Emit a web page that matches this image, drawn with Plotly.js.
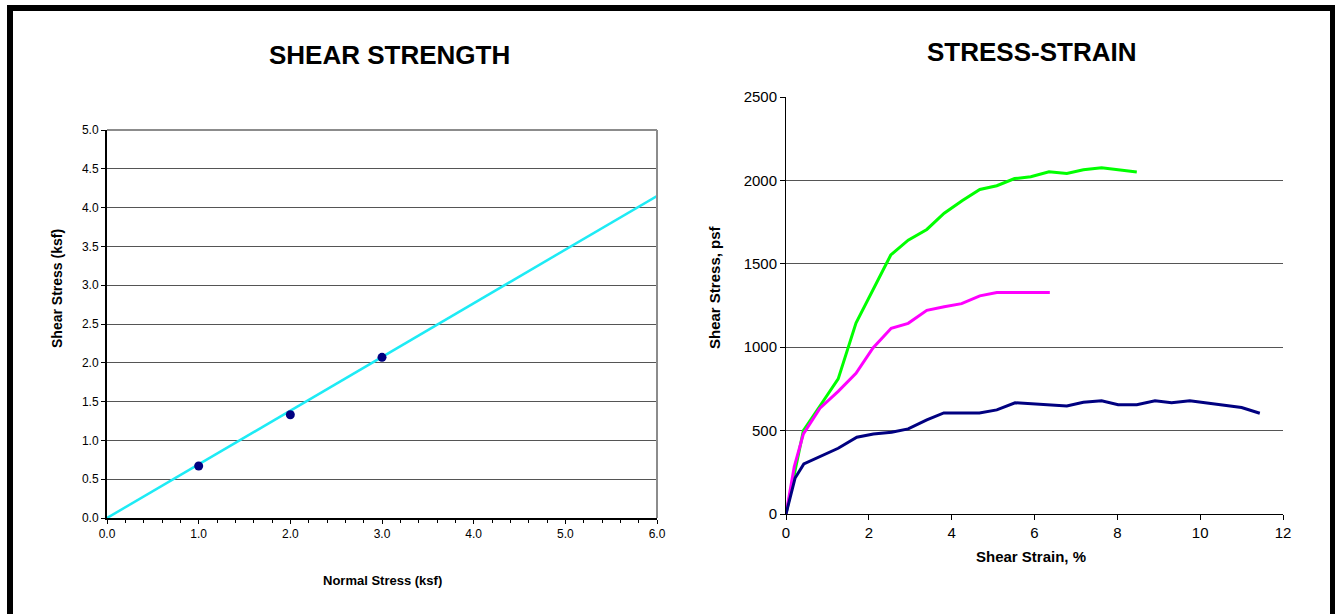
<!DOCTYPE html>
<html>
<head>
<meta charset="utf-8">
<script src="https://cdn.plot.ly/plotly-3.0.1.min.js"></script>
<style>
  html, body { margin: 0; padding: 0; background: #fff; }
  #wrap { position: relative; width: 1335px; height: 614px; overflow: hidden; }
  #chart { position: absolute; left: 0; top: 0; width: 1335px; height: 614px; }
  #frame { position: absolute; left: 7px; top: 5px; width: 1317px; height: 620px;
           border-left: 6px solid #000; border-top: 6px solid #000; border-right: 5px solid #000;
           pointer-events: none; }
</style>
</head>
<body>
<div id="wrap">
  <div id="chart"></div>
  <div id="frame"></div>
</div>
<script>
// ---- Shear strength (left chart) ----
const normalStress = [1.0, 2.0, 3.0];            // ksf
const shearStrength = [0.67, 1.33, 2.07];        // ksf
const envelopeNormal = [0.0, 6.0];               // ksf
const envelopeShear = [0.0, 4.15];               // ksf

// ---- Stress-strain (right chart) ----
const strainGreen = [0, 0.21, 0.42, 0.84, 1.26, 1.69, 2.11, 2.53, 2.95, 3.40, 3.82, 4.26, 4.68, 5.09, 5.52, 5.91, 6.35, 6.78, 7.18, 7.62, 8.47];
const stressGreen = [0, 250, 500, 655, 810, 1145, 1350, 1553, 1642, 1706, 1803, 1880, 1946, 1968, 2011, 2022, 2052, 2042, 2064, 2076, 2050];

const strainMagenta = [0, 0.20, 0.42, 0.82, 1.26, 1.69, 2.10, 2.54, 2.95, 3.40, 3.82, 4.24, 4.68, 5.09, 6.37];
const stressMagenta = [0, 284, 480, 634, 735, 843, 995, 1113, 1143, 1221, 1243, 1261, 1308, 1328, 1328];

const strainNavy = [0, 0.22, 0.43, 0.86, 1.26, 1.71, 2.11, 2.55, 2.95, 3.40, 3.81, 4.67, 5.09, 5.53, 5.97, 6.37, 6.78, 7.18, 7.62, 8.02, 8.47, 8.91, 9.31, 9.75, 10.19, 10.60, 11.00, 11.44];
const stressNavy = [0, 216, 300, 348, 394, 460, 480, 490, 510, 564, 606, 606, 624, 667, 660, 655, 648, 670, 679, 655, 655, 679, 667, 679, 663, 648, 638, 604];

const W = 1335, H = 614;
const px = v => v / W;
const py = v => 1 - v / H;

const traces = [
  { x: envelopeNormal, y: envelopeShear, mode: 'lines', line: { color: '#1EEBF5', width: 2.5 },
    xaxis: 'x', yaxis: 'y', hoverinfo: 'skip', cliponaxis: false },
  { x: normalStress, y: shearStrength, mode: 'markers', marker: { color: '#000080', size: 9 },
    xaxis: 'x', yaxis: 'y', cliponaxis: false },
  { x: strainGreen, y: stressGreen, mode: 'lines', line: { color: '#00FF00', width: 3 },
    xaxis: 'x2', yaxis: 'y2' },
  { x: strainMagenta, y: stressMagenta, mode: 'lines', line: { color: '#FF00FF', width: 3 },
    xaxis: 'x2', yaxis: 'y2' },
  { x: strainNavy, y: stressNavy, mode: 'lines', line: { color: '#000080', width: 3 },
    xaxis: 'x2', yaxis: 'y2' }
];

const tickFontL = { family: 'Liberation Sans, Arial, sans-serif', size: 12, color: '#000' };
const tickFontR = { family: 'Liberation Sans, Arial, sans-serif', size: 15, color: '#000' };
const boldFont = (s) => ({ family: 'Liberation Sans, Arial, sans-serif', size: s, color: '#000', weight: 'bold' });

const layout = {
  width: W, height: H,
  margin: { l: 0, r: 0, t: 0, b: 0 },
  paper_bgcolor: '#fff', plot_bgcolor: '#fff',
  showlegend: false,
  xaxis: {
    domain: [px(107), px(657)], range: [0, 6], dtick: 1, tickformat: '.1f',
    showline: true, linecolor: '#000', linewidth: 2, showgrid: false, zeroline: false,
    ticks: 'outside', ticklen: 4, tickcolor: '#000', tickwidth: 1,
    minor: { dtick: 0.2, ticks: 'outside', ticklen: 3, tickcolor: '#000', showgrid: false },
    tickfont: tickFontL, anchor: 'y', fixedrange: true
  },
  yaxis: {
    domain: [py(518), py(130)], range: [0, 5], dtick: 0.5, tickformat: '.1f',
    showline: true, linecolor: '#000', linewidth: 2, showgrid: true, gridcolor: '#555', gridwidth: 1,
    zeroline: false, ticks: 'outside', ticklen: 4, tickcolor: '#000',
    tickfont: tickFontL, anchor: 'x', fixedrange: true
  },
  xaxis2: {
    domain: [px(786), px(1283)], range: [0, 12], dtick: 2,
    showline: true, linecolor: '#000', linewidth: 1, showgrid: false, zeroline: false,
    ticks: 'outside', ticklen: 5, tickcolor: '#000',
    tickfont: tickFontR, anchor: 'y2', fixedrange: true
  },
  yaxis2: {
    domain: [py(514), py(97)], range: [0, 2500], dtick: 500,
    showline: true, linecolor: '#000', linewidth: 1, showgrid: true, gridcolor: '#555', gridwidth: 1,
    zeroline: false, ticks: 'outside', ticklen: 5, tickcolor: '#000',
    tickfont: tickFontR, anchor: 'x2', fixedrange: true
  },
  shapes: [
    { type: 'line', xref: 'x domain', yref: 'y domain', x0: 0, x1: 1, y0: 1, y1: 1,
      line: { color: '#8c8c8c', width: 2 }, layer: 'above' },
    { type: 'line', xref: 'x domain', yref: 'y domain', x0: 1, x1: 1, y0: 0, y1: 1,
      line: { color: '#8c8c8c', width: 2 }, layer: 'above' }
  ],
  annotations: [
    { text: 'SHEAR STRENGTH', xref: 'paper', yref: 'paper', x: px(389), y: py(55),
      showarrow: false, font: boldFont(26), xanchor: 'center', yanchor: 'middle' },
    { text: 'STRESS-STRAIN', xref: 'paper', yref: 'paper', x: px(1031), y: py(52),
      showarrow: false, font: boldFont(26), xanchor: 'center', yanchor: 'middle' },
    { text: 'Shear Stress (ksf)', xref: 'paper', yref: 'paper', x: px(57), y: py(289),
      showarrow: false, font: boldFont(14), textangle: -90, xanchor: 'center', yanchor: 'middle' },
    { text: 'Normal Stress (ksf)', xref: 'paper', yref: 'paper', x: px(382), y: py(580),
      showarrow: false, font: boldFont(13), xanchor: 'center', yanchor: 'middle' },
    { text: 'Shear Stress, psf', xref: 'paper', yref: 'paper', x: px(714), y: py(287),
      showarrow: false, font: boldFont(15), textangle: -90, xanchor: 'center', yanchor: 'middle' },
    { text: 'Shear Strain, %', xref: 'paper', yref: 'paper', x: px(1031), y: py(556),
      showarrow: false, font: boldFont(15), xanchor: 'center', yanchor: 'middle' }
  ]
};

Plotly.newPlot('chart', traces, layout, { staticPlot: true, displayModeBar: false });
</script>
</body>
</html>
